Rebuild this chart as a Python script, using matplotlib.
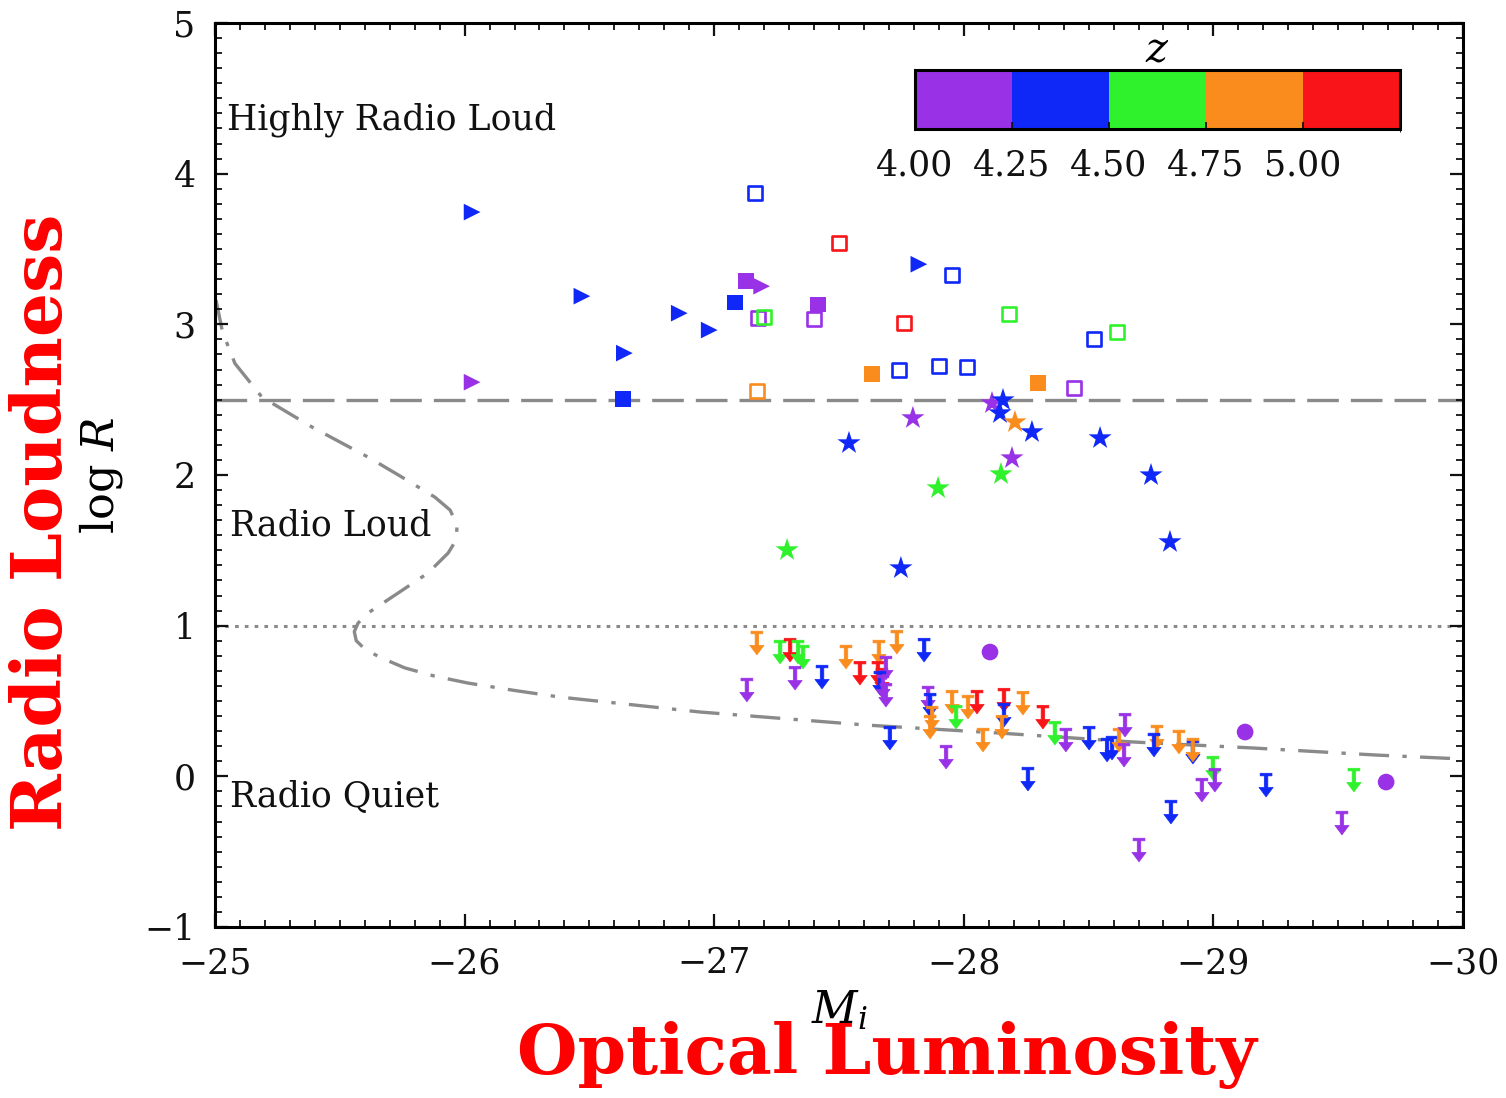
import numpy as np
import matplotlib
matplotlib.use("Agg")
import matplotlib.pyplot as plt
from matplotlib.colors import ListedColormap, BoundaryNorm
from matplotlib.cm import ScalarMappable
from matplotlib.path import Path
from matplotlib.ticker import MultipleLocator

plt.rcParams['font.family'] = ['DejaVu Serif']
plt.rcParams['mathtext.fontset'] = 'dejavuserif'

# ---------------- data ----------------
z_bounds = [4.0, 4.25, 4.5, 4.75, 5.0, 5.25]
z_colors = ['#9932e6', '#0f28f8', '#30f22c', '#fa8c1e', '#f81419']
cbar_ticks = [4.0, 4.25, 4.5, 4.75, 5.0]

# right-pointing triangles
tri_Mi = [-26.03, -26.47, -26.86, -26.98, -26.64, -26.03, -27.19, -27.82]
tri_logR = [3.745, 3.187, 3.074, 2.962, 2.809, 2.616, 3.253, 3.399]
tri_z = [4.35, 4.35, 4.35, 4.35, 4.35, 4.1, 4.1, 4.35]

# filled squares
fsq_Mi = [-27.127, -27.083, -27.416, -26.635, -27.632, -28.297]
fsq_logR = [3.287, 3.147, 3.134, 2.504, 2.670, 2.610]
fsq_z = [4.1, 4.35, 4.1, 4.35, 4.85, 4.85]

# open squares
osq_Mi = [-27.163, -27.500, -27.175, -27.200, -27.400, -27.760, -27.171, -27.740,
          -27.953, -28.181, -28.522, -28.614, -27.901, -28.013, -28.442]
osq_logR = [3.871, 3.539, 3.041, 3.048, 3.034, 3.008, 2.557, 2.696,
            3.326, 3.068, 2.902, 2.948, 2.723, 2.716, 2.577]
osq_z = [4.35, 5.1, 4.1, 4.6, 4.1, 5.1, 4.85, 4.35,
         4.35, 4.6, 4.35, 4.6, 4.35, 4.35, 4.1]

# stars
star_Mi = [-27.796, -27.540, -28.113, -28.157, -28.145, -28.205, -28.273, -28.546,
           -28.193, -28.149, -27.897, -28.750, -28.826, -27.292, -27.748]
star_logR = [2.378, 2.212, 2.477, 2.497, 2.411, 2.351, 2.285, 2.245,
             2.112, 2.006, 1.913, 1.999, 1.555, 1.502, 1.382]
star_z = [4.1, 4.35, 4.1, 4.35, 4.35, 4.85, 4.35, 4.35,
          4.1, 4.6, 4.6, 4.35, 4.35, 4.6, 4.35]

# circles
circ_Mi = [-28.105, -29.127, -29.692]
circ_logR = [0.825, 0.294, -0.038]
circ_z = [4.1, 4.1, 4.1]

# upper limits (arrows)
lim_Mi = [-27.171, -27.264, -27.304, -27.336, -27.356, -27.131, -27.324, -27.432,
          -27.528, -27.584, -27.660, -27.732, -27.656, -27.672, -27.688, -27.664,
          -27.676, -27.688, -27.841, -27.857, -27.865, -27.873, -27.865, -27.953,
          -27.969, -28.017, -28.053, -28.161, -28.161, -28.153, -28.237, -28.317,
          -27.704, -27.929, -28.077, -28.257, -28.365, -28.409, -28.502, -28.574,
          -28.594, -28.622, -28.646, -28.642, -28.774, -28.762, -28.862, -28.918,
          -28.918, -28.998, -29.006, -28.954, -28.830, -28.702, -29.211, -29.563,
          -29.515]
lim_logR = [0.885, 0.825, 0.838, 0.825, 0.792, 0.573, 0.652, 0.659,
            0.792, 0.685, 0.825, 0.891, 0.685, 0.639, 0.719, 0.619,
            0.593, 0.539, 0.838, 0.520, 0.473, 0.387, 0.327, 0.493,
            0.393, 0.460, 0.493, 0.506, 0.407, 0.327, 0.486, 0.393,
            0.254, 0.128, 0.241, -0.018, 0.287, 0.241, 0.254, 0.175,
            0.188, 0.241, 0.340, 0.141, 0.261, 0.208, 0.228, 0.161,
            0.175, 0.055, -0.025, -0.091, -0.237, -0.489, -0.058, -0.025,
            -0.310]
lim_z = [4.85, 4.6, 5.1, 4.6, 4.6, 4.1, 4.1, 4.35,
         4.85, 5.1, 4.85, 4.85, 5.1, 5.1, 4.1, 4.35,
         4.1, 4.1, 4.35, 4.1, 4.35, 4.85, 4.85, 4.85,
         4.6, 4.85, 5.1, 5.1, 4.35, 4.85, 4.85, 5.1,
         4.35, 4.1, 4.85, 4.35, 4.6, 4.1, 4.35, 4.35,
         4.35, 4.85, 4.1, 4.1, 4.85, 4.35, 4.85, 4.35,
         4.85, 4.6, 4.1, 4.1, 4.35, 4.1, 4.35, 4.6,
         4.1]

# distribution curve (dash-dot)
curve_Mi = [-25.004, -25.030, -25.080, -25.188, -25.389, -25.613, -25.749, -25.881,
            -25.942, -25.970, -25.966, -25.934, -25.853, -25.733, -25.613, -25.573,
            -25.558, -25.566, -25.600, -25.661, -25.760, -25.880, -26.014, -26.200,
            -26.382, -26.943, -27.612, -28.145, -28.678, -29.159, -29.655, -30.0]
curve_logR = [3.161, 2.950, 2.740, 2.517, 2.318, 2.119, 1.986, 1.853,
              1.767, 1.667, 1.568, 1.482, 1.349, 1.216, 1.084, 1.017,
              0.960, 0.900, 0.845, 0.790, 0.720, 0.665, 0.619, 0.570,
              0.526, 0.427, 0.340, 0.287, 0.228, 0.188, 0.141, 0.115]

loud_threshold = 2.5
quiet_threshold = 1.0

region_labels = ["Highly Radio Loud", "Radio Loud", "Radio Quiet"]
region_Mi = [-25.05, -25.06, -25.06]
region_logR = [4.355, 1.667, -0.137]

# ---------------- figure ----------------
fig = plt.figure(figsize=(15.06, 10.98), dpi=100)
ax = fig.add_axes([215/1506, 1-927/1098, 1248/1506, 904/1098])

cmap = ListedColormap(z_colors)
norm = BoundaryNorm(z_bounds, cmap.N)

def cols(z):
    return cmap(norm(np.asarray(z)))

gray = '#8a8a8a'
ax.axhline(loud_threshold, color=gray, lw=2.4, ls=(0, (9.5, 3.6)), zorder=1)
ax.axhline(quiet_threshold, color=gray, lw=2.2, ls=(0, (1.2, 2.0)), zorder=1)
ax.plot(curve_Mi, curve_logR, color=gray, lw=2.4, ls=(0, (9, 4, 1.3, 4)), zorder=1)

arrow_path = Path([(-0.25, 0.5), (0.25, 0.5), (0.25, 0.39), (0.075, 0.39),
                   (0.075, -0.10), (0.30, -0.10), (0.0, -0.5), (-0.30, -0.10),
                   (-0.075, -0.10), (-0.075, 0.39), (-0.25, 0.39), (-0.25, 0.5)],
                  closed=True)

ax.scatter(lim_Mi, lim_logR, marker=arrow_path, s=17**2, c=cols(lim_z),
           linewidths=0.5, edgecolors=cols(lim_z), zorder=3)
ax.scatter(circ_Mi, circ_logR, marker='o', s=12**2, c=cols(circ_z),
           linewidths=0, zorder=3)
ax.scatter(star_Mi, star_logR, marker='*', s=17.5**2, c=cols(star_z),
           linewidths=0, zorder=3)
ax.scatter(tri_Mi, tri_logR, marker='>', s=12**2, c=cols(tri_z),
           linewidths=0, zorder=3)
ax.scatter(fsq_Mi, fsq_logR, marker='s', s=11**2, c=cols(fsq_z),
           linewidths=0, zorder=3)
ax.scatter(osq_Mi, osq_logR, marker='s', s=10**2, facecolors='none',
           edgecolors=cols(osq_z), linewidths=1.9, zorder=3)

for t, xx, yy in zip(region_labels, region_Mi, region_logR):
    ax.text(xx, yy, t, fontsize=25, ha='left', va='center', color='#111111', zorder=4)

ax.set_xlim(-25, -30)
ax.set_ylim(-1, 5)
ax.set_xticks([-25, -26, -27, -28, -29, -30])
ax.set_yticks([-1, 0, 1, 2, 3, 4, 5])
ax.xaxis.set_minor_locator(MultipleLocator(0.1))
ax.yaxis.set_minor_locator(MultipleLocator(0.1))
ax.tick_params(which='both', direction='in', top=True, right=True,
               labelsize=25, colors='#111111')
ax.tick_params(which='major', length=9.5, width=1.6, pad=14)
ax.tick_params(which='minor', length=5, width=1.3)
for sp in ax.spines.values():
    sp.set_linewidth(2.2)

ax.set_xlabel(r'$M_i$', fontsize=32)
ax.xaxis.set_label_coords(0.5, -0.068)
ax.set_ylabel(r'$\log\,R$', fontsize=32)
ax.yaxis.set_label_coords(-0.072, 0.5)

# colorbar
cax = fig.add_axes([915/1506, 1-129/1098, 485/1506, 59/1098])
cb = fig.colorbar(ScalarMappable(norm=norm, cmap=cmap), cax=cax,
                  orientation='horizontal', ticks=cbar_ticks)
cb.ax.set_xticklabels(['%.2f' % v for v in cbar_ticks])
cb.ax.tick_params(direction='in', length=5, width=1.3, labelsize=25, pad=14,
                  colors='#111111')
cb.outline.set_linewidth(2.2)
cax.set_title(r'$z$', fontsize=30, pad=4)

# annotations
fig.text(43/1506, 1-522/1098, 'Radio Loudness', rotation=90, ha='center',
         va='center', color='#ff0000', fontsize=50, fontweight='bold',
         family=['DejaVu Serif Condensed', 'DejaVu Serif'])
fig.text(887/1506, 1-1055/1098, 'Optical Luminosity', ha='center',
         va='center', color='#ff0000', fontsize=50, fontweight='bold',
         family=['DejaVu Serif Condensed', 'DejaVu Serif'])

fig.savefig('out.png', dpi=100, facecolor='white')
